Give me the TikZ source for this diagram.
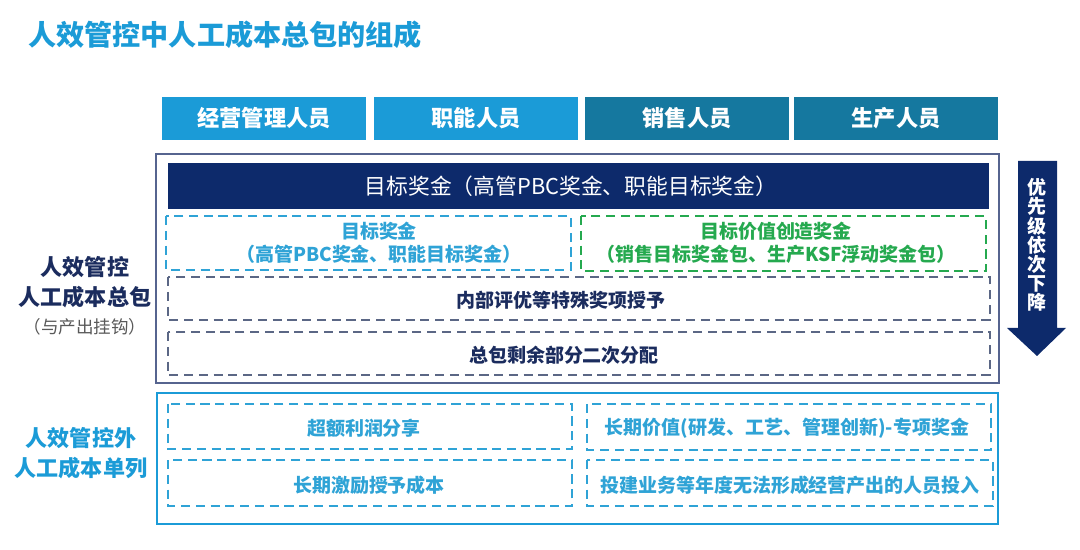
\documentclass[tikz,border=0pt]{standalone}
\usepackage{fontspec}
\setmainfont{Noto Sans CJK SC}
\definecolor{skyblue}{HTML}{1B9BD7}
\definecolor{seablue}{HTML}{15789F}
\definecolor{navy}{HTML}{0D2A6B}
\definecolor{framegray}{HTML}{56648F}
\definecolor{dashblue}{HTML}{2FA3D6}
\definecolor{dashgreen}{HTML}{25A94F}
\definecolor{dashgray}{HTML}{5B6785}
\definecolor{inknavy}{HTML}{1B2C5E}
\begin{document}
\begin{tikzpicture}[x=0.025cm, y=0.025cm]
  \tikzstyle{every node}+=[inner sep=0pt]
  \tikzstyle{dbox}=[line width=1.1pt, dash pattern=on 6.5pt off 4pt]
  \tikzstyle{hdr}=[text=white, font=\fontsize{15.8}{18}\selectfont\bfseries]
  \tikzstyle{btxt}=[font=\fontsize{13.5}{16.5}\selectfont\bfseries, align=center]
  \useasboundingbox (0,0) rectangle (1080,-550);
  \draw (28,-35) node (title) [anchor=west, text=skyblue, font=\fontsize{20}{24}\selectfont\bfseries] {人效管控中人工成本总包的组成};
  \fill [skyblue] (162,-97) rectangle (366,-140);
  \draw (264,-118) node (head1) [hdr] {经营管理人员};
  \fill [skyblue] (374,-97) rectangle (578,-140);
  \draw (476,-118) node (head2) [hdr] {职能人员};
  \fill [seablue] (585,-97) rectangle (789,-140);
  \draw (687,-118) node (head3) [hdr] {销售人员};
  \fill [seablue] (794,-97) rectangle (998,-140);
  \draw (896,-118) node (head4) [hdr] {生产人员};
  \draw [framegray, line width=0.9pt] (156,-154) rectangle (999,-383);
  \fill [navy] (168,-163) rectangle (989,-209);
  \draw (571,-186) node (bar) [text=white, font=\fontsize{15.5}{18}\selectfont] {目标奖金（高管PBC奖金、职能目标奖金）};
  \draw [dashblue, dbox] (166,-216) rectangle (571,-270);
  \draw (379,-243) node (boxA) [btxt, text=dashblue] {目标奖金\\（高管PBC奖金、职能目标奖金）};
  \draw [dashgreen, dbox] (581,-216) rectangle (986,-271);
  \draw (776,-243) node (boxB) [btxt, text=dashgreen] {目标价值创造奖金\\（销售目标奖金包、生产KSF浮动奖金包）};
  \draw [dashgray, dbox] (168,-277) rectangle (990,-320);
  \draw (561,-300) node (boxC) [btxt, text=inknavy] {内部评优等特殊奖项授予};
  \draw [dashgray, dbox] (168,-332) rectangle (990,-375);
  \draw (564,-355) node (boxD) [btxt, text=inknavy] {总包剩余部分二次分配};
  \draw [skyblue, line width=1.6pt] (157,-393) rectangle (998,-524);
  \draw [dashblue, dbox] (168,-404) rectangle (572,-449);
  \draw (364,-428) node (boxE) [btxt, text=dashblue] {超额利润分享};
  \draw [dashblue, dbox] (587,-404) rectangle (991,-450);
  \draw (787,-428) node (boxF) [btxt, text=dashblue] {长期价值(研发、工艺、管理创新)-专项奖金};
  \draw [dashblue, dbox] (168,-460) rectangle (572,-506);
  \draw (369,-485) node (boxG) [btxt, text=dashblue] {长期激励授予成本};
  \draw [dashblue, dbox] (587,-460) rectangle (993,-506);
  \draw (790,-485) node (boxH) [btxt, text=dashblue] {投建业务等年度无法形成经营产出的人员投入};
  \draw (85,-282) node (inlabel) [align=center, text=inknavy, font=\fontsize{15.7}{21.3}\selectfont\bfseries] {人效管控\\人工成本总包};
  \draw (85,-327) node (innote) [text=black!65, font=\fontsize{12.5}{15}\selectfont] {（与产出挂钩）};
  \draw (81,-453) node (outlabel) [align=center, text=skyblue, font=\fontsize{15.7}{21.3}\selectfont\bfseries] {人效管控外\\人工成本单列};
  \fill [navy] (1018,-161) -- (1057,-161) -- (1057,-328) -- (1066,-328) -- (1037,-356) -- (1007,-328) -- (1018,-328) -- cycle;
  \draw (1037,-245) node (prio) [align=center, text=white, font=\fontsize{13.5}{13.6}\selectfont\bfseries] {优\\先\\级\\依\\次\\下\\降};
\end{tikzpicture}
\end{document}
